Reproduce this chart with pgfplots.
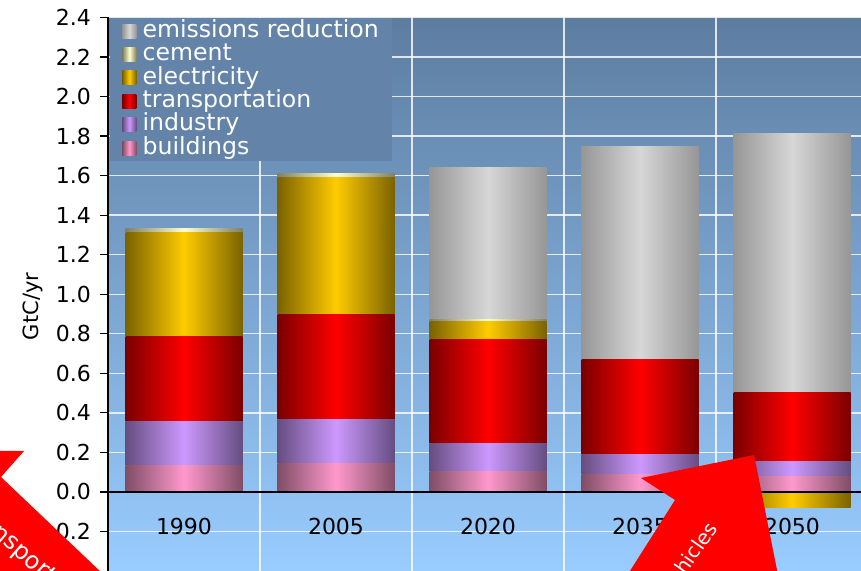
\documentclass[border=0pt]{standalone}
\usepackage{fontspec}
\setmainfont{DejaVu Sans}
\usepackage{pgfplots}
\pgfplotsset{compat=1.18}
\definecolor{bgtop}{RGB}{93,125,160}
\definecolor{bgbot}{RGB}{153,204,255}
\definecolor{legbg}{RGB}{99,132,168}
\definecolor{bldD}{RGB}{128,77,102}\definecolor{bldB}{RGB}{255,153,204}
\definecolor{indD}{RGB}{102,77,128}\definecolor{indB}{RGB}{204,153,255}
\definecolor{trnD}{RGB}{122,0,0}\definecolor{trnB}{RGB}{255,0,0}
\definecolor{eleD}{RGB}{122,98,0}\definecolor{eleB}{RGB}{255,204,0}
\definecolor{cemD}{RGB}{128,128,102}\definecolor{cemB}{RGB}{255,255,204}
\definecolor{redD}{RGB}{150,150,150}\definecolor{redB}{RGB}{215,215,215}
\pgfplotsset{
  shbar/.style n args={2}{draw=none, left color=#1, right color=#1, middle color=#2,
    legend image code/.code={\path[draw=none,left color=#1,right color=#1,middle color=#2] (0pt,-3.5pt) rectangle (7pt,3.5pt);}},
  common/.style={at={(54pt,0pt)}, anchor=south west,
    scale only axis, width=380pt, height=276.75pt,
    xmin=-0.5, xmax=4.5, ymin=-0.4, ymax=2.4},
}
% one stacked column per axis: x, buildings, industry, transportation, electricity, cement, emissions reduction
\newcommand{\catbars}[7]{%
\begin{axis}[common, hide axis, ybar stacked, bar width=58.5pt]
\addplot[shbar={bldD}{bldB}] coordinates {(#1,#2)};
\addplot[shbar={indD}{indB}] coordinates {(#1,#3)};
\addplot[shbar={trnD}{trnB}] coordinates {(#1,#4)};
\addplot[shbar={eleD}{eleB}] coordinates {(#1,#5)};
\addplot[shbar={cemD}{cemB}] coordinates {(#1,#6)};
\addplot[shbar={redD}{redB}] coordinates {(#1,#7)};
\end{axis}}
\begin{document}
\begin{tikzpicture}
\useasboundingbox (0,0) rectangle (430.5pt,285.5pt);
\clip (0,0) rectangle (430.5pt,285.5pt);
\begin{axis}[
  common,
  axis background/.style={top color=bgtop, bottom color=bgbot},
  axis y line=left, axis x line=bottom,
  x axis line style={draw=none},
  y axis line style={black, line width=0.6pt, -},
  xtick={0,1,2,3,4}, xticklabels={1990,2005,2020,2035,2050},
  minor xtick={0.5,1.5,2.5,3.5},
  xtick style={draw=none}, minor tick length=0pt,
  ytick={-0.2,0,0.2,0.4,0.6,0.8,1.0,1.2,1.4,1.6,1.8,2.0,2.2,2.4},
  ytick style={black, line width=0.6pt},
  tick align=outside, major tick length=4pt,
  /pgf/number format/assume math mode=true,
  yticklabel style={/pgf/number format/fixed, /pgf/number format/fixed zerofill, /pgf/number format/precision=1, xshift=-1pt},
  xticklabel style={anchor=center, yshift=26.5pt},
  tick label style={font=\fontsize{11}{13}\selectfont, text=black},
  ymajorgrids, xminorgrids,
  grid style={white, line width=0.7pt, opacity=0.8},
  ylabel={GtC/yr},
  every axis y label/.style={at={(axis description cs:-0.0993,0.478)}, rotate=90, anchor=center, font=\fontsize{10.5}{12}\selectfont},
  legend style={at={(axis description cs:0.0026,1)}, anchor=north west, fill=legbg, draw=none, text=white,
    font=\fontsize{11.8}{13}\selectfont, inner xsep=6pt, inner ysep=0.8pt, row sep=0pt, column sep=2.5pt,
    nodes={text height=8.3pt, text depth=2.2pt, inner sep=0.6pt}},
  legend cell align=left,
]
\addlegendimage{shbar={redD}{redB}}\addlegendentry{emissions reduction}
\addlegendimage{shbar={cemD}{cemB}}\addlegendentry{cement}
\addlegendimage{shbar={eleD}{eleB}}\addlegendentry{electricity}
\addlegendimage{shbar={trnD}{trnB}}\addlegendentry{transportation}
\addlegendimage{shbar={indD}{indB}}\addlegendentry{industry}
\addlegendimage{shbar={bldD}{bldB}}\addlegendentry{buildings}
\end{axis}
\catbars{0}{0.135}{0.220}{0.430}{0.525}{0.022}{0}
\catbars{1}{0.142}{0.223}{0.531}{0.694}{0.020}{0}
\catbars{2}{0.105}{0.138}{0.527}{0.091}{0.010}{0.770}
\catbars{3}{0.086}{0.101}{0.481}{0}{0}{1.079}
\catbars{4}{0.078}{0.074}{0.349}{0}{0}{1.312}
\begin{axis}[common, hide axis, ybar, bar width=58.5pt]
\addplot[shbar={eleD}{eleB}, bar shift=0pt] coordinates {(4,-0.08)};
\draw[black, line width=0.6pt] (axis cs:-0.5,0) -- (axis cs:4.5,0);
\end{axis}
% annotation arrows
\fill[red] (-5pt,60pt) -- (12pt,60pt) -- (0.5pt,47pt) -- (52pt,-2pt) -- (-5pt,-2pt) -- cycle;
\node[text=white, rotate=-41, font=\fontsize{12}{14}\selectfont, inner sep=0pt] at (17pt,4pt) {transportation};
\fill[red] (320.5pt,46.5pt) -- (377pt,58pt) -- (389pt,-2pt) -- (313.7pt,-2pt) -- (337.5pt,35.5pt) -- cycle;
\node[text=white, rotate=55, anchor=mid east, font=\fontsize{10}{12}\selectfont, inner sep=0pt] at (357pt,23pt) {electric vehicles};
\end{tikzpicture}
\end{document}
